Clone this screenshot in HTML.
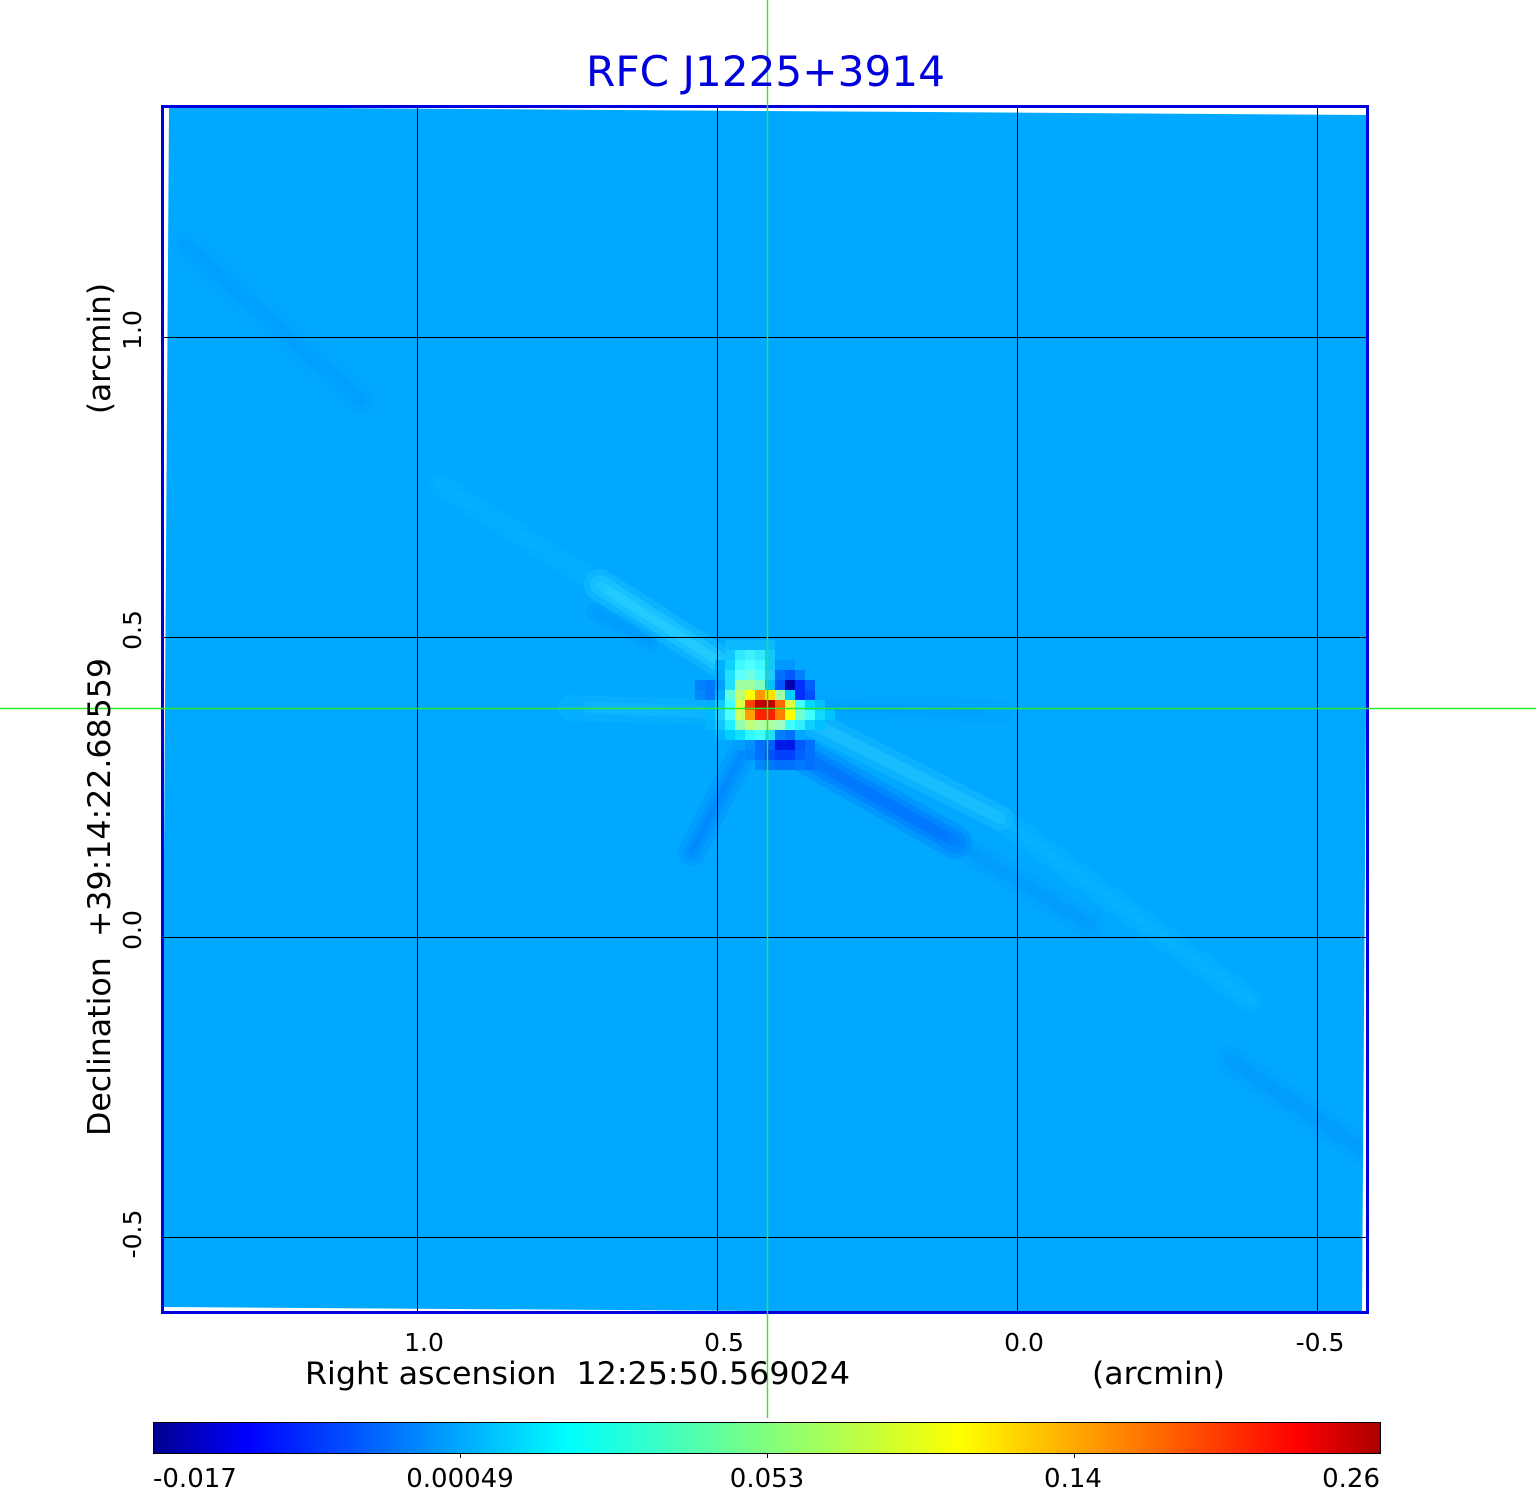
<!DOCTYPE html>
<html>
<head>
<meta charset="utf-8">
<style>
  html, body { margin: 0; padding: 0; background: #ffffff; }
  body { width: 1536px; height: 1511px; overflow: hidden; }
  svg { display: block; }
  text { font-family: "DejaVu Sans", "Liberation Sans", sans-serif; }
</style>
</head>
<body>
<svg width="1536" height="1511" viewBox="0 0 1536 1511" xmlns="http://www.w3.org/2000/svg">
  <defs>
    <clipPath id="img">
      <polygon points="169,107 1370,115 1362,1315 161,1307"/>
    </clipPath>
    <clipPath id="frame">
      <rect x="163" y="107" width="1204" height="1204"/>
    </clipPath>
    <linearGradient id="cb" x1="0" y1="0" x2="1" y2="0">
      <stop offset="0" stop-color="#00008f"/>
      <stop offset="0.077" stop-color="#0000ff"/>
      <stop offset="0.339" stop-color="#00ffff"/>
      <stop offset="0.658" stop-color="#ffff00"/>
      <stop offset="0.745" stop-color="#ffae00"/>
      <stop offset="0.932" stop-color="#ff0000"/>
      <stop offset="1" stop-color="#aa0000"/>
    </linearGradient>
  </defs>

  <rect x="0" y="0" width="1536" height="1511" fill="#ffffff"/>

  <!-- image -->
  <g clip-path="url(#frame)">
    <g clip-path="url(#img)">
      <rect x="150" y="100" width="1230" height="1230" fill="#00a9ff"/>
      <g stroke-linecap="round" fill="none">
        <!-- lower-right dark streak -->
        <g stroke="#0068ff">
          <line x1="790" y1="748" x2="955" y2="842" stroke-width="34" opacity="0.25"/>
          <line x1="790" y1="748" x2="955" y2="842" stroke-width="22" opacity="0.35"/>
          <line x1="790" y1="748" x2="955" y2="842" stroke-width="11" opacity="0.45"/>
        </g>
        <g stroke="#0090ff">
          <line x1="955" y1="842" x2="1090" y2="925" stroke-width="26" opacity="0.2"/>
          <line x1="955" y1="842" x2="1090" y2="925" stroke-width="12" opacity="0.3"/>
          <line x1="1230" y1="1060" x2="1370" y2="1155" stroke-width="28" opacity="0.2"/>
          <line x1="1230" y1="1060" x2="1370" y2="1155" stroke-width="14" opacity="0.3"/>
        </g>
        <!-- light band above lower-right streak -->
        <g stroke="#30d0ff">
          <line x1="810" y1="722" x2="1000" y2="818" stroke-width="26" opacity="0.25"/>
          <line x1="810" y1="722" x2="1000" y2="818" stroke-width="12" opacity="0.35"/>
        </g>
        <g stroke="#10c0ff">
          <line x1="1000" y1="818" x2="1250" y2="1000" stroke-width="24" opacity="0.2"/>
          <line x1="1000" y1="818" x2="1250" y2="1000" stroke-width="10" opacity="0.25"/>
        </g>
        <!-- upper-left light streak -->
        <g stroke="#30d8ff">
          <line x1="600" y1="585" x2="720" y2="662" stroke-width="32" opacity="0.25"/>
          <line x1="600" y1="585" x2="720" y2="662" stroke-width="20" opacity="0.35"/>
          <line x1="600" y1="585" x2="720" y2="662" stroke-width="9" opacity="0.45"/>
        </g>
        <g stroke="#10c0ff">
          <line x1="440" y1="485" x2="600" y2="585" stroke-width="22" opacity="0.15"/>
          <line x1="440" y1="485" x2="600" y2="585" stroke-width="10" opacity="0.2"/>
        </g>
        <!-- upper-left corner faint dark streak -->
        <g stroke="#0096ff">
          <line x1="185" y1="245" x2="360" y2="400" stroke-width="28" opacity="0.2"/>
          <line x1="185" y1="245" x2="360" y2="400" stroke-width="14" opacity="0.3"/>
        </g>
        <!-- left horizontal light band -->
        <g stroke="#20c4ff">
          <line x1="570" y1="708" x2="715" y2="712" stroke-width="26" opacity="0.2"/>
          <line x1="590" y1="708" x2="715" y2="712" stroke-width="12" opacity="0.3"/>
        </g>
        <!-- down-left blue streak -->
        <g stroke="#0080ff">
          <line x1="745" y1="748" x2="692" y2="852" stroke-width="28" opacity="0.25"/>
          <line x1="745" y1="748" x2="692" y2="852" stroke-width="16" opacity="0.35"/>
          <line x1="745" y1="748" x2="692" y2="852" stroke-width="7" opacity="0.4"/>
        </g>
        <!-- right horizontal darker band -->
        <g stroke="#0094ff">
          <line x1="825" y1="706" x2="1000" y2="712" stroke-width="24" opacity="0.2"/>
          <line x1="825" y1="706" x2="980" y2="712" stroke-width="10" opacity="0.3"/>
        </g>
        <!-- darker band under upper-left light streak -->
        <g stroke="#0090ff">
          <line x1="595" y1="612" x2="650" y2="642" stroke-width="18" opacity="0.25"/>
          <line x1="595" y1="612" x2="650" y2="642" stroke-width="8" opacity="0.3"/>
        </g>
      </g>
      <!-- central source cells -->
      <g shape-rendering="crispEdges">
        <!-- row 640 -->
        <rect x="725" y="640" width="50" height="10" fill="#10c0ff" opacity="0.7"/>
        <!-- row 650 -->
        <rect x="725" y="650" width="10" height="10" fill="#10c8ff"/>
        <rect x="735" y="650" width="10" height="10" fill="#30e8ff"/>
        <rect x="745" y="650" width="10" height="10" fill="#40f0ff"/>
        <rect x="755" y="650" width="10" height="10" fill="#30e8ff"/>
        <rect x="765" y="650" width="10" height="10" fill="#10c8ff"/>
        <!-- row 660 -->
        <rect x="715" y="660" width="10" height="10" fill="#00b4ff"/>
        <rect x="725" y="660" width="10" height="10" fill="#10d0ff"/>
        <rect x="735" y="660" width="10" height="10" fill="#40f8ff"/>
        <rect x="745" y="660" width="10" height="10" fill="#50ffff"/>
        <rect x="755" y="660" width="10" height="10" fill="#40f8ff"/>
        <rect x="765" y="660" width="10" height="10" fill="#10c8ff"/>
        <rect x="775" y="660" width="10" height="10" fill="#0098ff"/>
        <rect x="785" y="660" width="10" height="10" fill="#0098ff"/>
        <!-- row 670 -->
        <rect x="715" y="670" width="10" height="10" fill="#00b0ff"/>
        <rect x="725" y="670" width="10" height="10" fill="#20e0ff"/>
        <rect x="735" y="670" width="10" height="10" fill="#60ffff"/>
        <rect x="745" y="670" width="10" height="10" fill="#70ffe0"/>
        <rect x="755" y="670" width="10" height="10" fill="#50ffff"/>
        <rect x="765" y="670" width="10" height="10" fill="#20c8ff"/>
        <rect x="775" y="670" width="10" height="10" fill="#0070ff"/>
        <rect x="785" y="670" width="10" height="10" fill="#0058ff"/>
        <rect x="795" y="670" width="10" height="10" fill="#0080ff"/>
        <!-- row 680 -->
        <rect x="695" y="680" width="10" height="10" fill="#0080ff"/>
        <rect x="705" y="680" width="10" height="10" fill="#0078ff"/>
        <rect x="715" y="680" width="10" height="10" fill="#00a0ff"/>
        <rect x="725" y="680" width="10" height="10" fill="#20e0ff"/>
        <rect x="735" y="680" width="10" height="10" fill="#a0ffa0"/>
        <rect x="745" y="680" width="10" height="10" fill="#a0ffa0"/>
        <rect x="755" y="680" width="10" height="10" fill="#80ffc0"/>
        <rect x="765" y="680" width="10" height="10" fill="#00c0ff"/>
        <rect x="775" y="680" width="10" height="10" fill="#0058ff"/>
        <rect x="785" y="680" width="10" height="10" fill="#0000b0"/>
        <rect x="795" y="680" width="10" height="10" fill="#0030ff"/>
        <rect x="805" y="680" width="10" height="10" fill="#0060ff"/>
        <!-- row 690 -->
        <rect x="695" y="690" width="10" height="10" fill="#0088ff"/>
        <rect x="705" y="690" width="10" height="10" fill="#0078ff"/>
        <rect x="715" y="690" width="10" height="10" fill="#00b0ff"/>
        <rect x="725" y="690" width="10" height="10" fill="#60ffe0"/>
        <rect x="735" y="690" width="10" height="10" fill="#c0ff70"/>
        <rect x="745" y="690" width="10" height="10" fill="#ffff00"/>
        <rect x="755" y="690" width="10" height="10" fill="#ff9800"/>
        <rect x="765" y="690" width="10" height="10" fill="#ffe000"/>
        <rect x="775" y="690" width="10" height="10" fill="#a0ffa0"/>
        <rect x="785" y="690" width="10" height="10" fill="#00d0ff"/>
        <rect x="795" y="690" width="10" height="10" fill="#0030ff"/>
        <rect x="805" y="690" width="10" height="10" fill="#0050ff"/>
        <!-- row 700 -->
        <rect x="705" y="700" width="10" height="10" fill="#00b0ff"/>
        <rect x="715" y="700" width="10" height="10" fill="#10c8ff"/>
        <rect x="725" y="700" width="10" height="10" fill="#40ffff"/>
        <rect x="735" y="700" width="10" height="10" fill="#e0ff40"/>
        <rect x="745" y="700" width="10" height="10" fill="#ff4000"/>
        <rect x="755" y="700" width="10" height="10" fill="#c00000"/>
        <rect x="765" y="700" width="10" height="10" fill="#c00000"/>
        <rect x="775" y="700" width="10" height="10" fill="#ff6800"/>
        <rect x="785" y="700" width="10" height="10" fill="#e0ff40"/>
        <rect x="795" y="700" width="10" height="10" fill="#40ffff"/>
        <rect x="805" y="700" width="10" height="10" fill="#00d8ff"/>
        <rect x="815" y="700" width="10" height="10" fill="#00c0ff"/>
        <!-- row 710 -->
        <rect x="705" y="710" width="10" height="10" fill="#00b8ff"/>
        <rect x="715" y="710" width="10" height="10" fill="#20d0ff"/>
        <rect x="725" y="710" width="10" height="10" fill="#50ffff"/>
        <rect x="735" y="710" width="10" height="10" fill="#d0ff60"/>
        <rect x="745" y="710" width="10" height="10" fill="#ffa000"/>
        <rect x="755" y="710" width="10" height="10" fill="#ff2000"/>
        <rect x="765" y="710" width="10" height="10" fill="#ff2000"/>
        <rect x="775" y="710" width="10" height="10" fill="#ff8000"/>
        <rect x="785" y="710" width="10" height="10" fill="#ffff00"/>
        <rect x="795" y="710" width="10" height="10" fill="#70ffd0"/>
        <rect x="805" y="710" width="10" height="10" fill="#40ffff"/>
        <rect x="815" y="710" width="10" height="10" fill="#10d8ff"/>
        <rect x="825" y="710" width="10" height="10" fill="#00c4ff"/>
        <!-- row 720 -->
        <rect x="705" y="720" width="10" height="10" fill="#00b4ff"/>
        <rect x="715" y="720" width="10" height="10" fill="#10c8ff"/>
        <rect x="725" y="720" width="10" height="10" fill="#20f0ff"/>
        <rect x="735" y="720" width="10" height="10" fill="#90ffb0"/>
        <rect x="745" y="720" width="10" height="10" fill="#c0ff80"/>
        <rect x="755" y="720" width="10" height="10" fill="#b0ffa0"/>
        <rect x="765" y="720" width="10" height="10" fill="#b0ffa0"/>
        <rect x="775" y="720" width="10" height="10" fill="#a0ffc0"/>
        <rect x="785" y="720" width="10" height="10" fill="#40ffff"/>
        <rect x="795" y="720" width="10" height="10" fill="#30f0ff"/>
        <rect x="805" y="720" width="10" height="10" fill="#10d0ff"/>
        <rect x="815" y="720" width="10" height="10" fill="#00c0ff"/>
        <!-- row 730 -->
        <rect x="715" y="730" width="10" height="10" fill="#00b8ff"/>
        <rect x="725" y="730" width="10" height="10" fill="#00d0ff"/>
        <rect x="735" y="730" width="10" height="10" fill="#10e0ff"/>
        <rect x="745" y="730" width="10" height="10" fill="#30f8ff"/>
        <rect x="755" y="730" width="10" height="10" fill="#40ffff"/>
        <rect x="765" y="730" width="10" height="10" fill="#20e0ff"/>
        <rect x="775" y="730" width="10" height="10" fill="#0080ff"/>
        <rect x="785" y="730" width="10" height="10" fill="#0070ff"/>
        <rect x="795" y="730" width="10" height="10" fill="#00a8ff"/>
        <!-- row 740 -->
        <rect x="735" y="740" width="10" height="10" fill="#00a0ff"/>
        <rect x="745" y="740" width="10" height="10" fill="#0090ff"/>
        <rect x="755" y="740" width="10" height="10" fill="#0070ff"/>
        <rect x="765" y="740" width="10" height="10" fill="#0060ff"/>
        <rect x="775" y="740" width="10" height="10" fill="#0018e8"/>
        <rect x="785" y="740" width="10" height="10" fill="#0018e8"/>
        <rect x="795" y="740" width="10" height="10" fill="#0058ff"/>
        <rect x="805" y="740" width="10" height="10" fill="#0070ff"/>
        <!-- row 750 -->
        <rect x="745" y="750" width="10" height="10" fill="#0088ff"/>
        <rect x="755" y="750" width="10" height="10" fill="#0070ff"/>
        <rect x="765" y="750" width="10" height="10" fill="#0050ff"/>
        <rect x="775" y="750" width="10" height="10" fill="#0040ff"/>
        <rect x="785" y="750" width="10" height="10" fill="#0040ff"/>
        <rect x="795" y="750" width="10" height="10" fill="#0060ff"/>
        <rect x="805" y="750" width="10" height="10" fill="#0070ff"/>
        <!-- row 760 -->
        <rect x="755" y="760" width="10" height="10" fill="#0088ff"/>
        <rect x="765" y="760" width="10" height="10" fill="#0078ff"/>
        <rect x="775" y="760" width="10" height="10" fill="#0070ff"/>
        <rect x="785" y="760" width="10" height="10" fill="#0070ff"/>
        <rect x="795" y="760" width="10" height="10" fill="#0078ff"/>
        <rect x="805" y="760" width="10" height="10" fill="#0070ff"/>
      </g>
    </g>
  </g>

  <!-- grid -->
  <g stroke="#000000" stroke-width="1" shape-rendering="crispEdges">
    <line x1="417.5" y1="107" x2="417.5" y2="1312"/>
    <line x1="717.5" y1="107" x2="717.5" y2="1312"/>
    <line x1="1017.5" y1="107" x2="1017.5" y2="1312"/>
    <line x1="1317.5" y1="107" x2="1317.5" y2="1312"/>
    <line x1="163" y1="337.5" x2="1367" y2="337.5"/>
    <line x1="163" y1="637.5" x2="1367" y2="637.5"/>
    <line x1="163" y1="937.5" x2="1367" y2="937.5"/>
    <line x1="163" y1="1237.5" x2="1367" y2="1237.5"/>
  </g>

  <!-- frame -->
  <rect x="162.5" y="106.5" width="1205" height="1206" fill="none" stroke="#0000dd" stroke-width="3"/>

  <!-- crosshair -->
  <g stroke="#2ee82e" stroke-width="1.4">
    <line x1="767.5" y1="0" x2="767.5" y2="1418"/>
    <line x1="0" y1="708.5" x2="1536" y2="708.5"/>
  </g>

  <!-- title -->
  <text x="586" y="86" font-size="42" fill="#0000dd" textLength="359" lengthAdjust="spacingAndGlyphs">RFC J1225+3914</text>

  <!-- x tick labels -->
  <g font-size="25" fill="#000" text-anchor="middle">
    <text x="424" y="1351">1.0</text>
    <text x="724" y="1351">0.5</text>
    <text x="1024" y="1351">0.0</text>
    <text x="1320" y="1351">-0.5</text>
  </g>

  <!-- y tick labels -->
  <g font-size="25" fill="#000" text-anchor="middle">
    <text transform="translate(141,330) rotate(-90)">1.0</text>
    <text transform="translate(141,630) rotate(-90)">0.5</text>
    <text transform="translate(141,930) rotate(-90)">0.0</text>
    <text transform="translate(141,1234) rotate(-90)">-0.5</text>
  </g>

  <!-- axis labels -->
  <text x="305" y="1384" font-size="31" fill="#000" textLength="545" lengthAdjust="spacingAndGlyphs" xml:space="preserve">Right ascension  12:25:50.569024</text>
  <text x="1092" y="1384" font-size="31" fill="#000" textLength="133" lengthAdjust="spacingAndGlyphs">(arcmin)</text>
  <text transform="translate(110,1136) rotate(-90)" font-size="31" fill="#000" textLength="478" lengthAdjust="spacingAndGlyphs" xml:space="preserve">Declination  +39:14:22.68559</text>
  <text transform="translate(110,414) rotate(-90)" font-size="31" fill="#000" textLength="131" lengthAdjust="spacingAndGlyphs">(arcmin)</text>

  <!-- colorbar -->
  <rect x="153.5" y="1422.5" width="1227" height="31" fill="url(#cb)" stroke="#000" stroke-width="1"/>
  <g stroke="#000" stroke-width="1" shape-rendering="crispEdges">
    <line x1="460.5" y1="1454" x2="460.5" y2="1458"/>
    <line x1="767.5" y1="1454" x2="767.5" y2="1458"/>
    <line x1="1074.5" y1="1454" x2="1074.5" y2="1458"/>
  </g>
  <g font-size="26" fill="#000">
    <text x="153" y="1487">-0.017</text>
    <text x="460" y="1487" text-anchor="middle">0.00049</text>
    <text x="767" y="1487" text-anchor="middle">0.053</text>
    <text x="1073" y="1487" text-anchor="middle">0.14</text>
    <text x="1380" y="1487" text-anchor="end">0.26</text>
  </g>
</svg>
</body>
</html>
